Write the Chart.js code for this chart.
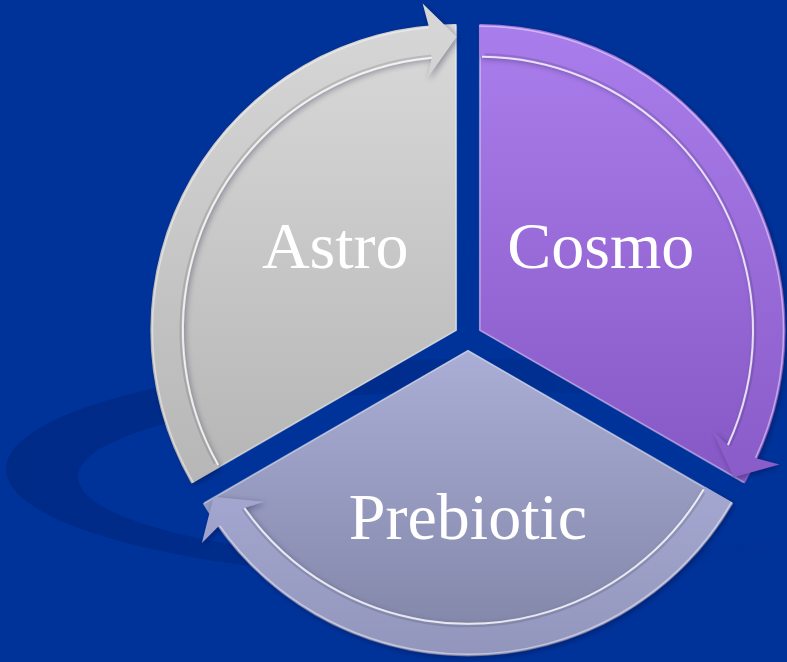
<!DOCTYPE html>
<html>
<head>
<meta charset="utf-8">
<script src="https://cdn.jsdelivr.net/npm/chart.js@4"></script>
<style>
  html, body { margin: 0; padding: 0; background: #00339a; }
  #cycle { display: block; }
</style>
</head>
<body>
<canvas id="cycle" width="787" height="662"></canvas>
<script>
/* three equal parts of the cycle, clockwise from 12 o'clock */
const labels = ['Cosmo', 'Prebiotic', 'Astro'];
const values = [1, 1, 1];

/* look */
const topColors = ['#aa7eec', '#aaaed6', '#d9d9d9'];
const bottomColors = ['#7a4bb8', '#8084a6', '#a9a9a9'];
const bandColors = ['#a97deb', '#b2b6e0', '#d6d6d6'];
const bandBottoms = ['#7e50bc', '#9296bc', '#acacac'];
const bg = '#00339a';

function segGradient(ctx, i) {
    const chart = ctx.chart;
    const a = chart.chartArea;
    if (!a) return topColors[i];
    const cy = (a.top + a.bottom) / 2;
    const R = 305;
    const g = chart.ctx.createLinearGradient(0, cy - R, 0, cy + R);
    g.addColorStop(i === 1 ? 0.5 : 0, topColors[i]);
    g.addColorStop(1, bottomColors[i]);
    return g;
}

// faint ring behind the pie, lower left
const ringShadow = {
    id: 'ringShadow',
    beforeDatasetsDraw(chart) {
        const el = chart.getDatasetMeta(0).data[0];
        if (!el) return;
        const c = chart.ctx;
        c.save();
        const fade = c.createLinearGradient(el.x - 470, 0, el.x + 330, 0);
        fade.addColorStop(0, 'rgba(0, 18, 80, 0.26)');
        fade.addColorStop(0.45, 'rgba(0, 18, 80, 0.18)');
        fade.addColorStop(1, 'rgba(0, 18, 80, 0)');
        c.fillStyle = fade;
        c.beginPath();
        c.ellipse(el.x, el.y + 132, 462, 110, 0, 0, Math.PI * 2);
        c.fill();
        c.fillStyle = bg;
        c.beginPath();
        c.ellipse(el.x + 14, el.y + 140, 404, 86, 0, 0, Math.PI * 2);
        c.fill();
        c.restore();
    }
};

function pt(cx, cy, r, a) {
    return [cx + Math.cos(a) * r, cy + Math.sin(a) * r];
}

// arrow band along the rim of every part, head at the clockwise end
const arrows = {
    id: 'arrows',
    afterDatasetsDraw(chart) {
        const c = chart.ctx;
        chart.getDatasetMeta(0).data.forEach((el, i) => {
            const off = (el.options.offset || 0) / 4;
            const a0 = el.startAngle, a1 = el.endAngle;
            const mid = (a0 + a1) / 2;
            const circ = a1 - a0;
            const cx = el.x + Math.cos(mid) * off;
            const cy = el.y + Math.sin(mid) * off;
            const R = el.outerRadius + off * (1 - Math.sin(Math.min(Math.PI, circ)));
            const rOut = R - 1, rIn = R - 33;
            const rTip = R - 13;
            const aBase = a1 - 27 / rTip;

            c.save();
            const g = c.createLinearGradient(0, cy - R, 0, cy + R);
            g.addColorStop(i === 1 ? 0.5 : 0, bandColors[i]);
            g.addColorStop(1, bandBottoms[i]);
            c.fillStyle = g;
            c.shadowColor = 'rgba(0, 0, 40, 0.35)';
            c.shadowBlur = 6;
            c.shadowOffsetX = 2;
            c.shadowOffsetY = 2;
            c.beginPath();
            c.arc(cx, cy, rOut, a0, aBase);
            c.lineTo(...pt(cx, cy, R + 22, aBase - 0.012));
            c.lineTo(...pt(cx, cy, rTip, a1));
            c.lineTo(...pt(cx, cy, R - 53, aBase - 0.025));
            c.lineTo(...pt(cx, cy, rIn, aBase));
            c.arc(cx, cy, rIn, aBase, a0, true);
            c.closePath();
            c.fill();
            c.shadowColor = 'transparent';

            // groove on the inner edge of the band
            c.lineWidth = 2;
            c.strokeStyle = 'rgba(0, 0, 0, 0.12)';
            c.beginPath();
            c.arc(cx, cy, rIn + 2.5, a0 + 0.02, aBase);
            c.stroke();
            c.strokeStyle = 'rgba(255, 255, 255, 0.8)';
            c.beginPath();
            c.arc(cx, cy, rIn, a0 + 0.01, aBase);
            c.stroke();
            // rim highlight
            c.lineWidth = 1.5;
            c.strokeStyle = 'rgba(255, 255, 255, 0.45)';
            c.beginPath();
            c.arc(cx, cy, rOut - 1.5, a0, aBase);
            c.stroke();
            c.restore();
        });
    }
};

const partLabels = {
    id: 'partLabels',
    afterDraw(chart) {
        const c = chart.ctx;
        chart.getDatasetMeta(0).data.forEach((el, i) => {
            const off = (el.options.offset || 0) / 4;
            const mid = (el.startAngle + el.endAngle) / 2;
            const cx = el.x + Math.cos(mid) * off;
            const cy = el.y + Math.sin(mid) * off;
            const R = el.outerRadius;
            const x = cx + Math.cos(mid) * R * 0.46;
            const y = cy + Math.sin(mid) * R * 0.55 + 4;
            c.save();
            c.font = '66px "Liberation Serif", "DejaVu Serif", serif';
            c.fillStyle = '#ffffff';
            c.textAlign = 'center';
            c.textBaseline = 'middle';
            c.fillText(labels[i], x, y);
            c.restore();
        });
    }
};

new Chart(document.getElementById('cycle'), {
    type: 'pie',
    data: {
        labels: labels,
        datasets: [{
            data: values,
            backgroundColor: ctx => segGradient(ctx, ctx.dataIndex),
            borderColor: 'rgba(255, 255, 255, 0.35)',
            borderWidth: 1.5,
            borderAlign: 'inner',
            offset: 52,
            radius: 305
        }]
    },
    options: {
        responsive: false,
        animation: false,
        layout: { padding: { left: 149, top: 12, right: 0, bottom: 0 } },
        plugins: {
            legend: { display: false },
            tooltip: { enabled: false }
        }
    },
    plugins: [ringShadow, arrows, partLabels]
});
</script>
</body>
</html>
